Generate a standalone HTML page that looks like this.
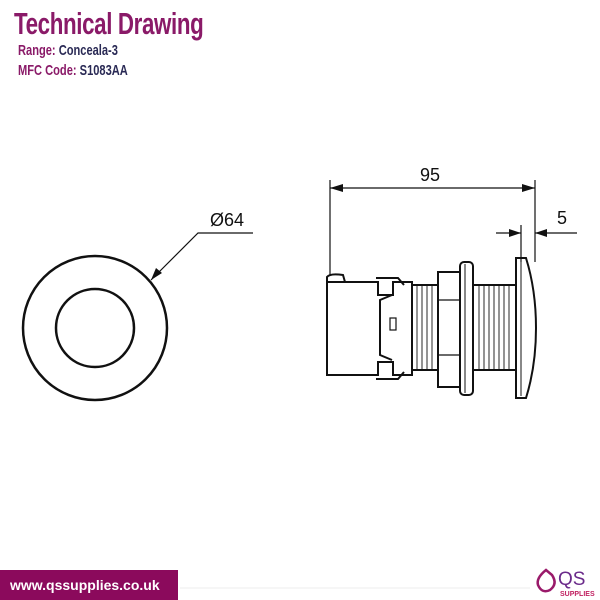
<!DOCTYPE html>
<html><head><style>
body{margin:0;width:600px;height:600px;background:#fff;overflow:hidden;position:relative;font-family:"Liberation Sans",sans-serif}
.t{position:absolute;left:14px;top:6px;font-size:31px;font-weight:bold;color:#8a1a68;transform:scaleX(0.72);transform-origin:left;letter-spacing:-0.5px;font-family:"Liberation Sans Narrow","Liberation Sans",sans-serif}
.s{position:absolute;left:18px;font-size:15px;font-weight:bold;color:#2a2a55;transform:scaleX(0.74);transform-origin:left;font-family:"Liberation Sans Narrow","Liberation Sans",sans-serif}
.s b{color:#8a1a68}
.bar{position:absolute;left:0;top:570px;width:178px;height:30px;background:#8b0a5c;color:#fff;font-weight:bold;font-size:14px;line-height:30px;padding-left:10px;box-sizing:border-box}
</style></head><body>
<div class="t">Technical Drawing</div>
<div class="s" style="top:42px"><b>Range:</b> Conceala-3</div>
<div class="s" style="top:62px"><b>MFC Code:</b> S1083AA</div>
<svg width="600" height="600" style="position:absolute;left:0;top:0" fill="none" stroke="#111" stroke-width="2">
<line x1="180" y1="588" x2="530" y2="588" stroke="#eee" stroke-width="1"/>
<circle cx="95" cy="328" r="72" stroke-width="2.5"/>
<circle cx="95" cy="328" r="39" stroke-width="2.5"/>
<polyline points="151,280 198,233 253,233" stroke-width="1.2"/>
<polygon points="151,280 156,268 162,273" fill="#111" stroke="none"/>
<text x="210" y="226" font-size="18" fill="#111" stroke="none" font-family="Liberation Sans">Ø64</text>
<g stroke-width="1.2">
<line x1="330" y1="180" x2="330" y2="276"/>
<line x1="535" y1="180" x2="535" y2="262"/>
<line x1="330" y1="188" x2="535" y2="188"/>
<line x1="521" y1="225" x2="521" y2="262"/>
<line x1="496" y1="233" x2="521" y2="233"/>
<line x1="535" y1="233" x2="577" y2="233"/>
</g>
<g fill="#111" stroke="none">
<polygon points="330,188 343,184 343,192"/><polygon points="535,188 522,184 522,192"/>
<polygon points="521,233 509,229 509,237"/><polygon points="535,233 547,229 547,237"/>
<text x="420" y="181" font-size="18" font-family="Liberation Sans">95</text>
<text x="557" y="224" font-size="18" font-family="Liberation Sans">5</text>
</g>
<g stroke-width="2">
<path d="M327,282 L327,375 L378,375 L378,362 L393,362 L393,375 L412,375 L412,282 L393,282 L393,295 L378,295 L378,282 Z"/>
<path d="M327,282 L327,277 Q330,273 343,275 L345,282"/>
<path d="M376,278 L398,278 L404,285 M376,379 L398,379 L404,372"/>
<path d="M392,295 L380,300 L380,355 L392,360"/>
<rect x="390" y="318" width="6" height="12" stroke-width="1.2"/>
<rect x="412" y="285" width="26" height="85"/>
<rect x="438" y="272" width="22" height="115"/>
<line x1="438" y1="300" x2="460" y2="300" stroke-width="1.2"/>
<line x1="438" y1="355" x2="460" y2="355" stroke-width="1.2"/>
<rect x="460" y="262" width="13" height="133" rx="4"/>
<line x1="465" y1="264" x2="465" y2="393" stroke-width="1"/>
<rect x="473" y="285" width="43" height="85"/>
<path d="M516,258 L526,258 Q536,290 536,328 Q536,366 526,398 L516,398 Z"/>
<line x1="521" y1="260" x2="521" y2="396" stroke-width="1"/>
</g>
<g stroke-width="0.9">
<line x1="417" y1="286" x2="417" y2="369"/><line x1="422" y1="286" x2="422" y2="369"/><line x1="427" y1="286" x2="427" y2="369"/><line x1="432" y1="286" x2="432" y2="369"/>
<line x1="479" y1="286" x2="479" y2="369"/><line x1="484" y1="286" x2="484" y2="369"/><line x1="489" y1="286" x2="489" y2="369"/><line x1="494" y1="286" x2="494" y2="369"/><line x1="499" y1="286" x2="499" y2="369"/><line x1="504" y1="286" x2="504" y2="369"/><line x1="509" y1="286" x2="509" y2="369"/>
</g>
<g stroke="#9a1a6a" stroke-width="2.5">
<path d="M546,570 Q536,578 538,585 Q542,594 550,590 Q558,584 552,575 Z"/>
</g>
<text x="558" y="585" font-size="19" fill="#6a2a8a" stroke="none" font-family="Liberation Sans">QS</text>
<text x="560" y="596" font-size="7" fill="#c02060" stroke="none" font-weight="bold" font-family="Liberation Sans">SUPPLIES</text>
</svg>
<div class="bar">www.qssupplies.co.uk</div>
</body></html>
